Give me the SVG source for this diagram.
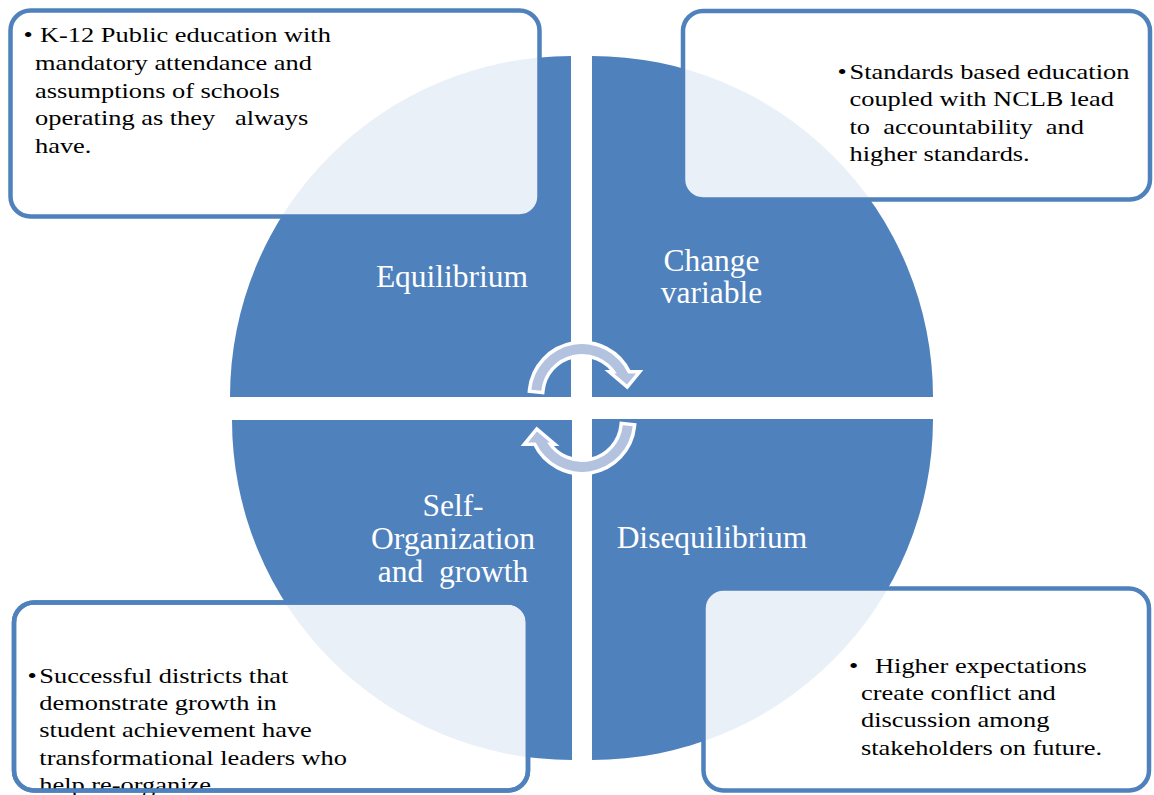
<svg xmlns="http://www.w3.org/2000/svg" width="1154" height="795" viewBox="0 0 1154 795">
<style>
.quad{fill:#4F81BD;stroke:none}
.box{fill:#FFFFFF;fill-opacity:0.88;stroke:#4F81BD;stroke-width:4.5}
.boxline{fill:none;stroke:#4F81BD;stroke-width:4.5}
.lbl{font-family:"Liberation Serif","Times New Roman",serif;font-size:31.5px;fill:#FFFFFF;text-anchor:middle;white-space:pre}
.txt{font-family:"Liberation Serif","Times New Roman",serif;font-size:22px;fill:#000000;white-space:pre}
.arr{fill:#B3C3DF;stroke:#FFFFFF;stroke-width:7;stroke-linejoin:miter;paint-order:stroke}
</style>
<defs>
<path id="cyc" d="M531.3,389.7 A51,51 0 0 1 628.2,373.5 L636,373.5 L627,384.5 L614,373.5 L616.9,373.5 A41,41 0 0 0 541.2,390.7 Z"/>
</defs>
<rect width="1154" height="795" fill="#FFFFFF"/>
<g id="quadrants">
<g id="q-equilibrium"><path class="quad" d="M571,397 L230,397 A341,341 0 0 1 571,56 Z"/><text class="lbl" x="452" y="287">Equilibrium</text></g>
<g id="q-change"><path class="quad" d="M592,397 L592,56 A341,341 0 0 1 933,397 Z"/><text class="lbl" x="711.5" y="270.5">Change</text><text class="lbl" x="711.5" y="303.3">variable</text></g>
<g id="q-disequilibrium"><path class="quad" d="M592,419 L933,419 A341,341 0 0 1 592,760 Z"/><text class="lbl" x="712" y="547.7">Disequilibrium</text></g>
<g id="q-selforg"><path class="quad" d="M572,420 L572,760 A340,340 0 0 1 232,420 Z"/><text class="lbl" x="453" y="516">Self-</text><text class="lbl" x="453" y="549.3">Organization</text><text class="lbl" x="453" y="581.7">and  growth</text></g>
</g>
<g id="connectors">
<use href="#cyc" class="arr"/>
<use href="#cyc" class="arr" transform="rotate(180 582 408)"/>
</g>
<g id="box-tl">
<rect class="box" x="10.5" y="10.5" width="529" height="206" rx="20"/>
<g transform="matrix(1.2 0 0 1 35 0)">
<text class="txt" x="-9.5" y="42.3">•</text>
<text class="txt" x="4.2" y="42.3">K-12 Public education with</text>
<text class="txt" x="0" y="70">mandatory attendance and</text>
<text class="txt" x="0" y="97.6">assumptions of schools</text>
<text class="txt" x="0" y="125.2">operating as they   always</text>
<text class="txt" x="0" y="152.8">have.</text>
</g>
</g>
<g id="box-tr">
<rect class="box" x="683" y="11" width="467" height="188.5" rx="20"/>
<g transform="matrix(1.2 0 0 1 849.5 0)">
<text class="txt" x="-10" y="79">•</text>
<text class="txt" x="0" y="79">Standards based education</text>
<text class="txt" x="0" y="106.3">coupled with NCLB lead</text>
<text class="txt" x="0" y="133.6">to  accountability  and</text>
<text class="txt" x="0" y="161">higher standards.</text>
</g>
</g>
<g id="box-br">
<rect class="box" x="703.5" y="588.5" width="445.5" height="202" rx="20"/>
<g transform="matrix(1.2 0 0 1 861 0)">
<text class="txt" x="-10" y="672.7">•</text>
<text class="txt" x="11.7" y="672.7">Higher expectations</text>
<text class="txt" x="0" y="700">create conflict and</text>
<text class="txt" x="0" y="727.3">discussion among</text>
<text class="txt" x="0" y="755">stakeholders on future.</text>
</g>
</g>
<g id="box-bl">
<rect class="box" x="14" y="602.5" width="514" height="188" rx="20"/>
<g transform="matrix(1.2 0 0 1 39.3 0)">
<text class="txt" x="-9.8" y="682.7">•</text>
<text class="txt" x="0" y="682.7">Successful districts that</text>
<text class="txt" x="0" y="710">demonstrate growth in</text>
<text class="txt" x="0" y="737.3">student achievement have</text>
<text class="txt" x="0" y="765">transformational leaders who</text>
<text class="txt" x="0" y="792">help re-organize.</text>
</g>
<rect class="boxline" x="14" y="602.5" width="514" height="188" rx="20"/>
</g>
</svg>
